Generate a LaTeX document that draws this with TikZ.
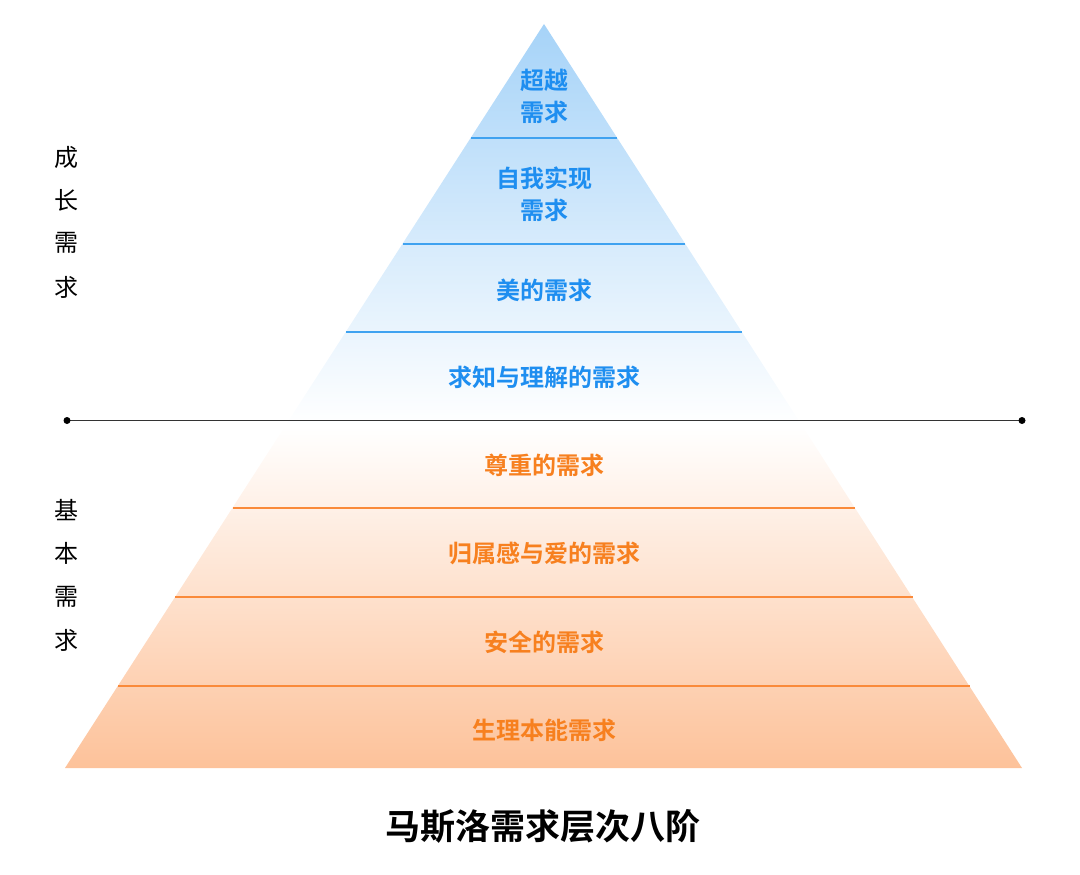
\documentclass[tikz,border=0pt]{standalone}
\usepackage{fontspec}
\newfontfamily\cjk{Noto Sans CJK SC}
\newfontfamily\cjkb{Noto Sans CJK SC Bold}
\definecolor{pblue}{HTML}{A6D3F8}
\definecolor{porange}{HTML}{FDC29A}
\definecolor{tblue}{HTML}{1E8EF0}
\definecolor{torange}{HTML}{F7801F}
\definecolor{lblue}{HTML}{3FA2F0}
\definecolor{lorange}{HTML}{FA8A3A}
\pgfdeclareverticalshading{pyrshade}{100bp}{color(0bp)=(porange); color(25bp)=(porange); color(48bp)=(white); color(75bp)=(pblue); color(100bp)=(pblue)}
\begin{document}
\begin{tikzpicture}[x=1pt,y=-1pt,
  lvl/.style={font=\cjkb\fontsize{24}{32}\selectfont, align=center, inner sep=0pt},
  bl/.style={lvl, text=tblue},
  ol/.style={lvl, text=torange},
  side/.style={font=\cjk\fontsize{24}{26}\selectfont, inner sep=0pt},
  bdiv/.style={draw=lblue, line width=1.3pt},
  odiv/.style={draw=lorange, line width=1.3pt}]
\useasboundingbox (0,0) rectangle (1080,875);
\coordinate (apex) at (544,24);
\coordinate (bl) at (65,768);
\coordinate (br) at (1022,768);
\shade[shading=pyrshade] (apex) -- (br) -- (bl) -- cycle;
% dividers
\foreach \y/\s in {138/bdiv,244/bdiv,332/bdiv,508/odiv,597/odiv,686/odiv}{
  \pgfmathsetmacro{\hw}{(\y-24)/744*478.5}
  \draw[\s] (544-\hw,\y) -- (544+\hw,\y);
}
% separator line
\coordinate (sl) at (67,420.5);
\coordinate (sr) at (1022,420.5);
\draw[line width=1.5pt, black!80] (sl) -- (sr);
\fill (sl) circle (3.5pt);
\fill (sr) circle (3.5pt);
% labels
\node[bl] (l1) at (544,96) {超越\\需求};
\node[bl] (l2) at (544,194) {自我实现\\需求};
\node[bl] (l3) at (544,290) {美的需求};
\node[bl] (l4) at (544,377) {求知与理解的需求};
\node[ol] (l5) at (544,465) {尊重的需求};
\node[ol] (l6) at (544,553) {归属感与爱的需求};
\node[ol] (l7) at (544,642) {安全的需求};
\node[ol] (l8) at (544,730) {生理本能需求};
% side labels
\node[side] (g1) at (66,157) {成};
\node[side] (g2) at (66,200) {长};
\node[side] (g3) at (66,243) {需};
\node[side] (g4) at (66,287) {求};
\node[side] (b1) at (66,510) {基};
\node[side] (b2) at (66,553) {本};
\node[side] (b3) at (66,597) {需};
\node[side] (b4) at (66,640) {求};
% title
\node[font=\cjkb\fontsize{35}{38}\selectfont, inner sep=0pt] (title) at (543,826) {马斯洛需求层次八阶};
\end{tikzpicture}
\end{document}
